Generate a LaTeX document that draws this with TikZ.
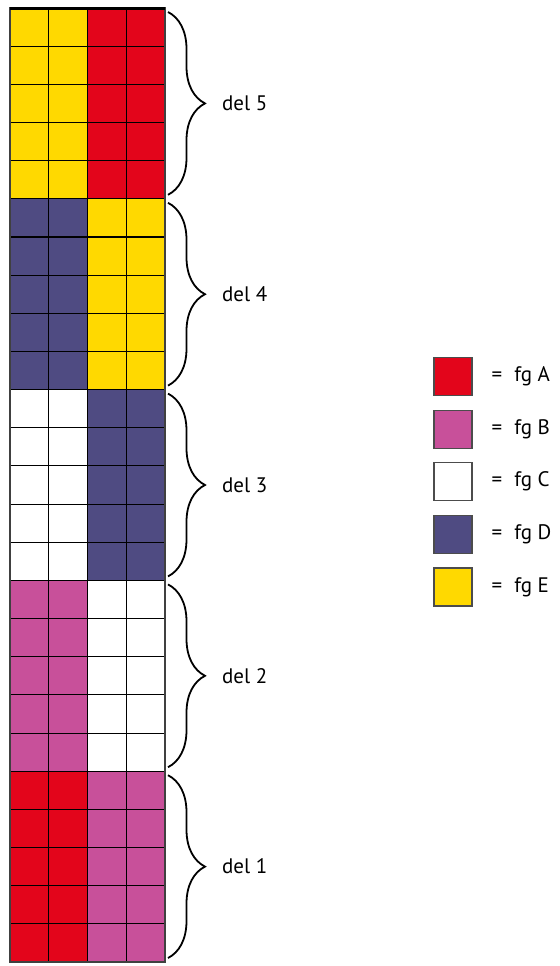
\documentclass[tikz,border=0pt]{standalone}
\usepackage{fontspec}
\setmainfont{PT Sans}
\usetikzlibrary{positioning,decorations.pathreplacing}

% farger for figurene
\definecolor{fgA}{HTML}{E3051B}
\definecolor{fgB}{HTML}{C8509A}
\definecolor{fgC}{HTML}{FFFFFF}
\definecolor{fgD}{HTML}{4F4B82}
\definecolor{fgE}{HTML}{FFD900}

\tikzset{
  celle/.style={draw=black, line width=0.55pt},
  ramme/.style={draw=black!75, line width=1.3pt},
  klamme/.style={decorate, decoration={brace, amplitude=18.5pt}, line width=0.9pt},
  rute/.style={draw=black!70, line width=0.6pt, minimum size=19pt, inner sep=0pt},
  tekst/.style={font=\fontsize{10.5}{12}\selectfont}
}

\begin{document}
\begin{tikzpicture}[x=0.5pt,y=-0.5pt]

  \useasboundingbox (0,0) rectangle (559,966);

  % Delene, nedenfra og opp
  \foreach \d/\v/\h in {1/fgA/fgB, 2/fgB/fgC, 3/fgC/fgD, 4/fgD/fgE, 5/fgE/fgA}{
    \pgfmathsetmacro{\yb}{962-(\d-1)*190.8}
    \pgfmathsetmacro{\yt}{\yb-190.8}
    \fill[\v] (10,\yt) rectangle (87.5,\yb); % venstre halvdel
    \fill[\h] (87.5,\yt) rectangle (165,\yb); % hoyre halvdel
    \draw[klamme] (168,\yt+4) -- (168,\yb-4);
    \node[tekst, anchor=west] (del\d) at (215,\yb-95.4) {del \d};
  }

  % Rutenett
  \foreach \c in {1,2,3}
    \draw[celle] ({10+\c*38.75},8) -- ({10+\c*38.75},962);
  \foreach \r in {1,...,24}
    \draw[celle] (10,{8+\r*38.16}) -- (165,{8+\r*38.16});
  \draw[ramme] (10,8) rectangle (165,962);
  \draw[black, line width=1.5pt] (10,8) -- (165,8); % toppkant

  % Forklaring
  \node[rute, fill=fgA] (ruteA) at (453,376.5) {};
  \node[rute, fill=fgB, below=6.7pt of ruteA] (ruteB) {};
  \node[rute, fill=fgC, below=6.7pt of ruteB] (ruteC) {};
  \node[rute, fill=fgD, below=6.7pt of ruteC] (ruteD) {};
  \node[rute, fill=fgE, below=6.7pt of ruteD] (ruteE) {};
  \foreach \f in {A,B,C,D,E}
    \node[tekst, right=6pt of rute\f] (navn\f) {=\hspace{6pt}fg \f};

\end{tikzpicture}
\end{document}
